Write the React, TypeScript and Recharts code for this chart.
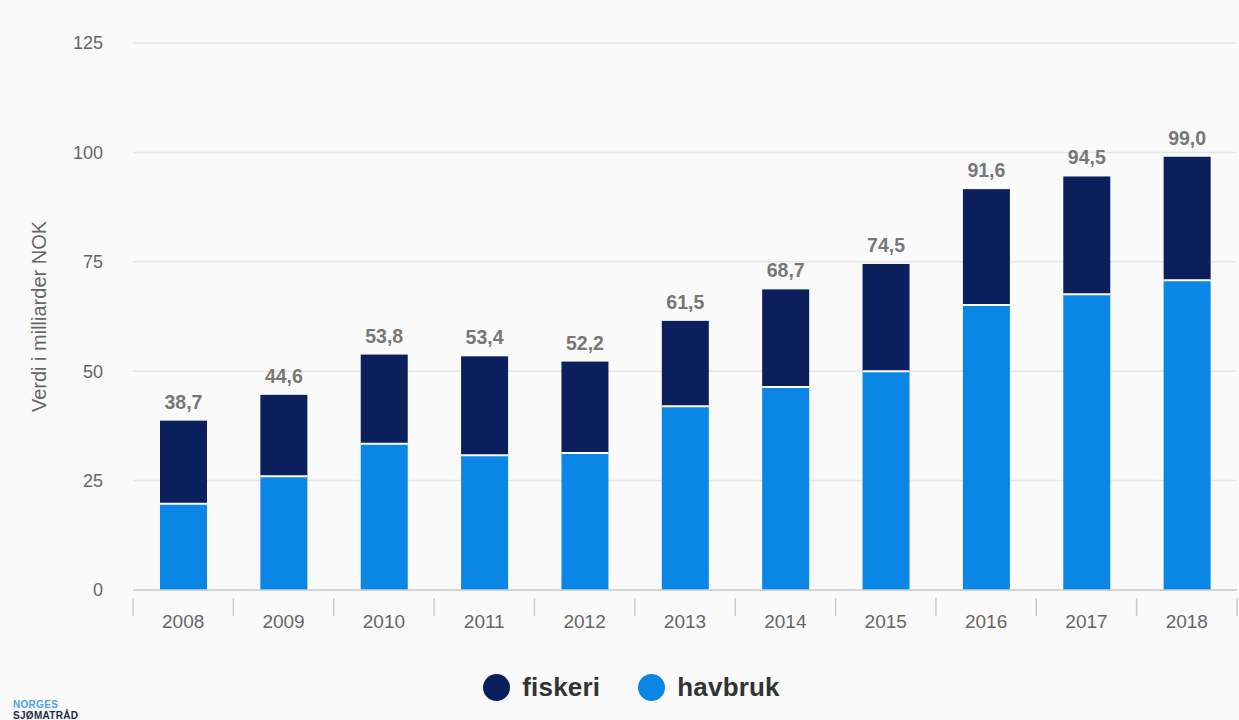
import React from 'react';
import { BarChart, Bar, XAxis, YAxis, CartesianGrid, Legend, LabelList } from 'recharts';

const years = ['2008', '2009', '2010', '2011', '2012', '2013', '2014', '2015', '2016', '2017', '2018'];
const havbruk = [19.7, 26.0, 33.4, 30.8, 31.3, 42.0, 46.4, 50.0, 65.1, 67.6, 70.8];
const fiskeri = [19.0, 18.6, 20.4, 22.6, 20.9, 19.5, 22.3, 24.5, 26.5, 26.9, 28.2];
const totals = [38.7, 44.6, 53.8, 53.4, 52.2, 61.5, 68.7, 74.5, 91.6, 94.5, 99.0];
const yTicks = [0, 25, 50, 75, 100, 125];

const DARK = '#0b1f5c';
const LIGHT = '#0a86e6';
const BG = '#fafafa';
const FONT = '"Liberation Sans", Arial, Helvetica, sans-serif';

const data = years.map((y, i) => ({ year: y, havbruk: havbruk[i], fiskeri: fiskeri[i], total: totals[i] }));

const XTick = (props: any) => {
  const { x, y, payload, index } = props;
  const half = payload && payload.offset ? payload.offset : 50;
  return (
    <g>
      <line x1={x - half} y1={y} x2={x - half} y2={y + 18} stroke="#cccccc" strokeWidth={1.5} />
      {index === years.length - 1 && (
        <line x1={x + half} y1={y} x2={x + half} y2={y + 18} stroke="#cccccc" strokeWidth={1.5} />
      )}
      <text x={x} y={y + 30} textAnchor="middle" fill="#666" fontSize={19} fontFamily={FONT}>
        {payload.value}
      </text>
    </g>
  );
};

const TopShape = (props: any) => {
  const { x, y, width, height, fill } = props;
  return (
    <g>
      <rect x={x} y={y} width={width} height={height} fill={fill} />
      <line x1={x} y1={y + height} x2={x + width} y2={y + height} stroke="#ffffff" strokeWidth={2} />
    </g>
  );
};

const TotalLabel = (props: any) => {
  const { x, y, width, index } = props;
  const v = totals[index];
  return (
    <text x={x + width / 2} y={y - 12} textAnchor="middle" fill="#777" fontSize={19.5} fontWeight="bold" fontFamily={FONT}>
      {v.toFixed(1).replace('.', ',')}
    </text>
  );
};

const legendItems = [
  { name: 'fiskeri', color: DARK },
  { name: 'havbruk', color: LIGHT },
];

const LegendContent = () => (
  <div style={{ display: 'flex', justifyContent: 'center', alignItems: 'center', fontFamily: FONT }}>
    {legendItems.map((it, i) => (
      <div key={it.name} style={{ display: 'flex', alignItems: 'center', marginLeft: i === 0 ? 0 : 38 }}>
        <span style={{ display: 'inline-block', width: 27, height: 27, borderRadius: 14, background: it.color, marginRight: 12 }} />
        <span style={{ fontSize: 26, fontWeight: 'bold', color: '#333', letterSpacing: 0.2 }}>{it.name}</span>
      </div>
    ))}
  </div>
);

export default function App() {
  return (
    <div style={{ position: 'fixed', left: 0, top: 0, width: 1239, height: 720, background: BG, overflow: 'hidden' }}>
      <BarChart
        width={1239}
        height={720}
        data={data}
        margin={{ top: 43, right: 2, left: 0, bottom: 90 }}
        barSize={47}
      >
        <CartesianGrid vertical={false} stroke="#e6e6e6" strokeWidth={1.5} />
        <XAxis
          dataKey="year"
          height={40}
          axisLine={{ stroke: '#cccccc', strokeWidth: 1.5 }}
          tickLine={false}
          tick={<XTick />}
          interval={0}
        />
        <YAxis
          width={133}
          domain={[0, 125]}
          ticks={yTicks}
          axisLine={false}
          tickLine={false}
          tickSize={0}
          tickMargin={30}
          tick={{ fill: '#666', fontSize: 18, fontFamily: FONT }}
          label={{
            value: 'Verdi i milliarder NOK',
            angle: -90,
            position: 'insideLeft',
            dx: 34,
            dy: 0,
            style: { fill: '#666', fontSize: 20, fontFamily: FONT, textAnchor: 'middle' },
          }}
        />
        <Legend
          verticalAlign="middle"
          layout="horizontal"
          align="center"
          wrapperStyle={{ top: 672, left: 12, width: 1239 }}
          content={<LegendContent />}
        />
        <Bar dataKey="havbruk" stackId="a" fill={LIGHT} isAnimationActive={false} />
        <Bar dataKey="fiskeri" stackId="a" fill={DARK} isAnimationActive={false} shape={<TopShape />}>
          <LabelList dataKey="total" content={<TotalLabel />} />
        </Bar>
      </BarChart>
      <div style={{ position: 'absolute', left: 13, top: 699, fontFamily: FONT, fontWeight: 900, fontSize: 10, lineHeight: '11px' }}>
        <div style={{ color: '#4aa3e0', letterSpacing: 0.3 }}>NORGES</div>
        <div style={{ color: '#1c2a4a', letterSpacing: 0.3 }}>SJØMATRÅD</div>
      </div>
    </div>
  );
}
